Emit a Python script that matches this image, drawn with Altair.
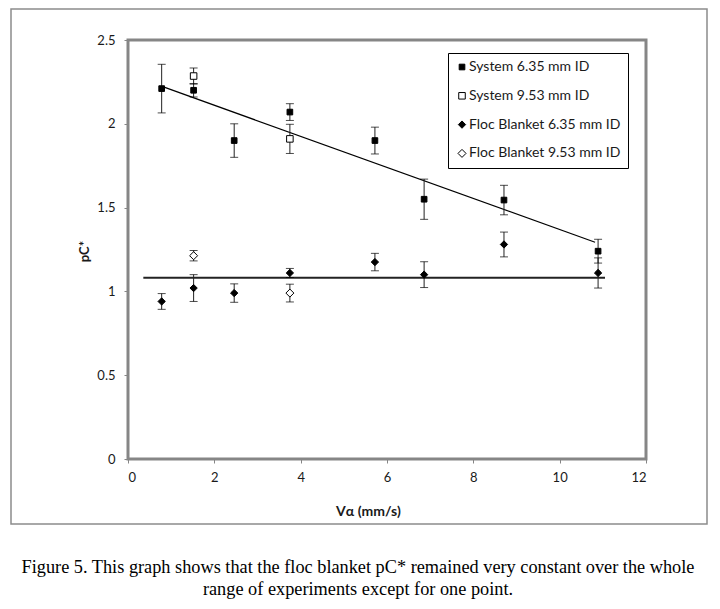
import altair as alt
import pandas as pd

# ---------------- data ----------------
series_names = ["System 6.35 mm ID", "System 9.53 mm ID",
                "Floc Blanket 6.35 mm ID", "Floc Blanket 9.53 mm ID"]

sys635_x = [0.78, 1.52, 2.46, 3.75, 5.72, 6.86, 8.71, 10.89]
sys635_y = [2.21, 2.20, 1.90, 2.07, 1.90, 1.55, 1.545, 1.24]
sys635_e = [0.145, 0.04, 0.10, 0.05, 0.08, 0.12, 0.088, 0.071]

sys953_x = [1.52, 3.75]
sys953_y = [2.285, 1.91]
sys953_e = [0.048, 0.087]

floc635_x = [0.78, 1.52, 2.46, 3.75, 5.72, 6.86, 8.71, 10.89]
floc635_y = [0.94, 1.02, 0.99, 1.11, 1.175, 1.10, 1.28, 1.11]
floc635_e = [0.047, 0.08, 0.055, 0.027, 0.052, 0.077, 0.074, 0.09]

floc953_x = [1.52, 3.75]
floc953_y = [1.213, 0.99]
floc953_e = [0.031, 0.053]

sys_trend_x = [0.82, 10.82]
sys_trend_y = [2.22, 1.293]
floc_trend_x = [0.355, 11.05]
floc_trend_y = [1.082, 1.082]

x_ticks = [0, 2, 4, 6, 8, 10, 12]
y_ticks = [0, 0.5, 1, 1.5, 2, 2.5]

caption_lines = [
    "Figure 5. This graph shows that the floc blanket pC* remained very constant over the whole",
    "range of experiments except for one point.",
]

# ---------------- tables ----------------
rows = []
for name, xs_, ys_, es_ in [
    (series_names[0], sys635_x, sys635_y, sys635_e),
    (series_names[1], sys953_x, sys953_y, sys953_e),
    (series_names[2], floc635_x, floc635_y, floc635_e),
    (series_names[3], floc953_x, floc953_y, floc953_e),
]:
    for xv, yv, ev in zip(xs_, ys_, es_):
        rows.append({"series": name, "x": xv, "y": yv, "lo": yv - ev, "hi": yv + ev})
pts = pd.DataFrame(rows)

sys_line = pd.DataFrame({"x": sys_trend_x, "y": sys_trend_y})
floc_line = pd.DataFrame({"x": floc_trend_x, "y": floc_trend_y})
dummy = pd.DataFrame({"k": [0]})

LABEL_FONT = "Lato"
xscale = alt.Scale(domain=[0, 12], nice=False, zero=False)
yscale = alt.Scale(domain=[0, 2.5], nice=False, zero=False)

xaxis = alt.Axis(values=x_ticks, title="Vα (mm/s)", grid=False, domain=False,
                 ticks=True, tickColor="#868686", tickSize=4, tickWidth=1,
                 labelPadding=8, labelFont=LABEL_FONT, labelFontSize=13,
                 labelColor="#1a1a1a", titleFont=LABEL_FONT, titleFontSize=14,
                 titleFontWeight="bold", titleColor="#1a1a1a",
                 titleX=240, titleY=56, titleBaseline="alphabetic")
yaxis = alt.Axis(values=y_ticks, format="~g", title="pC*", grid=False, domain=False,
                 ticks=True, tickColor="#868686", tickSize=4, tickWidth=1,
                 labelPadding=9, labelFont=LABEL_FONT, labelFontSize=13,
                 labelColor="#1a1a1a", titleFont=LABEL_FONT, titleFontSize=13,
                 titleFontWeight="bold", titleColor="#1a1a1a",
                 titleX=-40, titleY=211, titleBaseline="alphabetic", titleAngle=270)

legend = alt.Legend(title=None, orient="none", legendX=320, legendY=13,
                    strokeColor="black", padding=7, rowPadding=14.8,
                    labelFont=LABEL_FONT, labelFontSize=14, labelColor="#1a1a1a",
                    labelOffset=0, symbolStrokeColor="black", symbolStrokeWidth=1,
                    fillColor="white")

frame = alt.Chart(dummy).mark_rect(fill="white", fillOpacity=0, stroke="#8c8c8c",
                                   strokeWidth=1.5).encode(
    x=alt.value(-117), x2=alt.value(579), y=alt.value(-31), y2=alt.value(484))

l1 = alt.Chart(sys_line).mark_line(color="black", strokeWidth=1.2).encode(
    x=alt.X("x:Q", scale=xscale, axis=xaxis), y=alt.Y("y:Q", scale=yscale, axis=yaxis))
l2 = alt.Chart(floc_line).mark_line(color="#222222", strokeWidth=2).encode(
    x=alt.X("x:Q", scale=xscale), y=alt.Y("y:Q", scale=yscale))

err = alt.Chart(pts).mark_rule(color="#222222", strokeWidth=1).encode(
    x=alt.X("x:Q", scale=xscale), y=alt.Y("lo:Q", scale=yscale), y2="hi:Q")
cap_lo = alt.Chart(pts).mark_tick(orient="horizontal", size=8, thickness=1,
                                  color="black").encode(
    x=alt.X("x:Q", scale=xscale), y=alt.Y("lo:Q", scale=yscale))
cap_hi = alt.Chart(pts).mark_tick(orient="horizontal", size=8, thickness=1,
                                  color="black").encode(
    x=alt.X("x:Q", scale=xscale), y=alt.Y("hi:Q", scale=yscale))

points = alt.Chart(pts).mark_point(filled=True, opacity=1, strokeWidth=1).encode(
    x=alt.X("x:Q", scale=xscale),
    y=alt.Y("y:Q", scale=yscale),
    shape=alt.Shape("series:N", sort=series_names,
                    scale=alt.Scale(domain=series_names,
                                    range=["square", "square", "diamond", "diamond"]),
                    legend=legend),
    fill=alt.Fill("series:N", sort=series_names,
                  scale=alt.Scale(domain=series_names,
                                  range=["black", "white", "black", "white"]),
                  legend=legend),
    stroke=alt.Stroke("series:N", sort=series_names,
                      scale=alt.Scale(domain=series_names,
                                      range=["black", "black", "black", "black"]),
                      legend=legend),
    size=alt.Size("series:N", sort=series_names,
                  scale=alt.Scale(domain=series_names, range=[32, 64, 36, 45]),
                  legend=legend),
)

cap1 = alt.Chart(dummy).mark_text(text=caption_lines[0], font="Liberation Serif",
                                  fontSize=18.3, align="center", baseline="alphabetic",
                                  color="black").encode(
    x=alt.value(230), y=alt.value(533))
cap2 = alt.Chart(dummy).mark_text(text=caption_lines[1], font="Liberation Serif",
                                  fontSize=18.3, align="center", baseline="alphabetic",
                                  color="black").encode(
    x=alt.value(230), y=alt.value(555))

chart = alt.layer(frame, l1, l2, err, cap_lo, cap_hi, points, cap1, cap2).properties(
    width=518, height=419,
    autosize=alt.AutoSizeParams(type="none"),
    padding={"left": 120, "top": 32, "right": 66, "bottom": 142},
    background="white",
).configure_view(stroke="#868686", strokeWidth=3)

chart.save("out.html", embed_options={"renderer": "svg", "actions": False})
